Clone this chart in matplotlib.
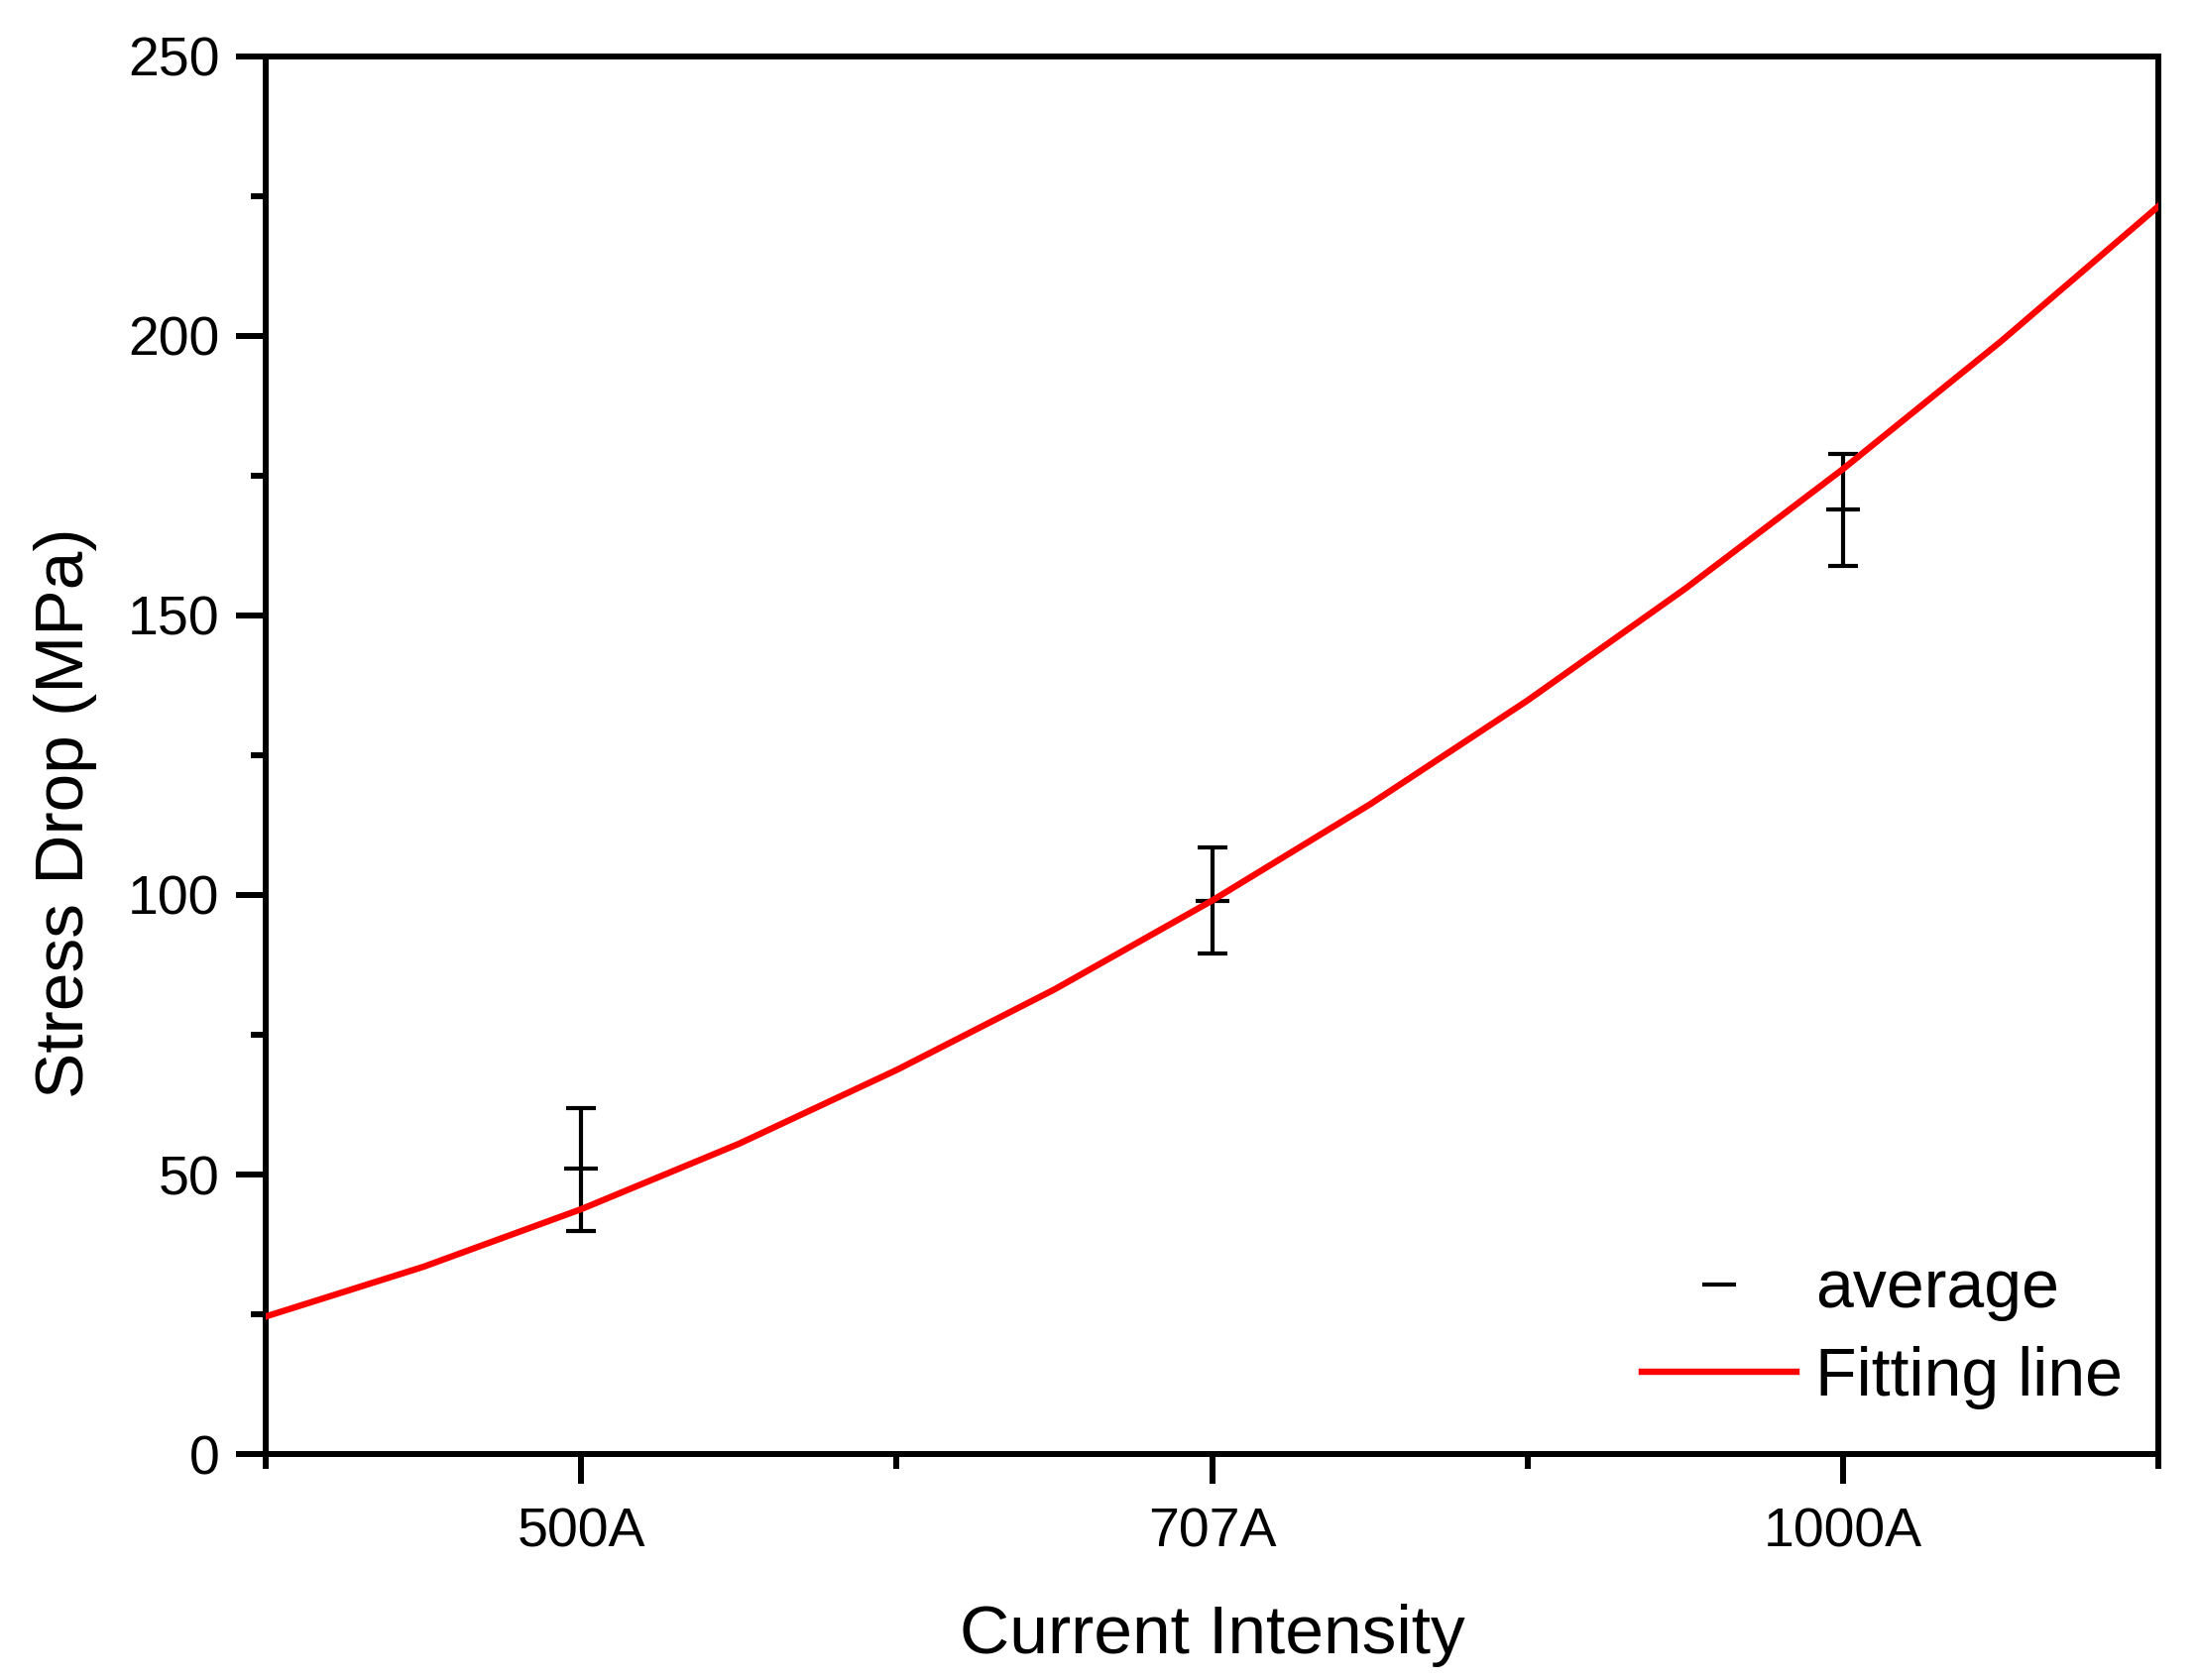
import numpy as np
import matplotlib.pyplot as plt
from matplotlib.ticker import MultipleLocator

plt.rcParams['font.family'] = ['Liberation Sans', 'DejaVu Sans']

# datos: corrientes, promedio y barras de error
categorias = ['500A', '707A', '1000A']
pos = [1, 2, 3]
promedio = [51.0, 98.9, 169.0]
err_sup = [10.8, 9.6, 9.9]
err_inf = [11.1, 9.4, 10.1]

# curva de ajuste
fit_x = [0.5, 0.75, 1.0, 1.25, 1.5, 1.75, 2.0, 2.25, 2.5, 2.75, 3.0, 3.25, 3.5]
fit_y = [24.6, 33.5, 43.8, 55.5, 68.7, 83.1, 99.0, 116.2, 134.8, 154.8, 176.2, 199.0, 223.2]

fig = plt.figure(figsize=(22.17, 16.95), dpi=100)
ax = fig.add_axes([0.1209, 0.1345, 0.8611, 0.8319])

ax.plot(fit_x, fit_y, color='red', lw=4.6, label='Fitting line', zorder=3,
        solid_joinstyle='round')
ax.errorbar(pos, promedio, yerr=[err_inf, err_sup], fmt='none', ecolor='black',
            elinewidth=3.0, capsize=10.8, capthick=3.0, zorder=2)
ax.plot(pos, promedio, ls='none', marker='_', ms=24.7, mew=3.0, color='black',
        label='average', zorder=2)

ax.set_xlim(0.5, 3.5)
ax.set_ylim(0, 250)
ax.set_xticks(pos)
ax.set_xticklabels(categorias)
ax.set_xticks([0.5, 1.5, 2.5, 3.5], minor=True)
ax.yaxis.set_major_locator(MultipleLocator(50))
ax.yaxis.set_minor_locator(MultipleLocator(25))

for s in ax.spines.values():
    s.set_linewidth(4.3)
ax.tick_params(which='major', direction='out', length=21.6, width=4.3,
               labelsize=40, pad=12)
ax.tick_params(axis='x', which='major', pad=17)
ax.tick_params(which='minor', direction='out', length=11, width=4.3)

ax.set_xlabel('Current Intensity', fontsize=50, labelpad=33)
ax.set_ylabel('Stress Drop (MPa)', fontsize=50)
ax.yaxis.set_label_coords(-0.089, 0.459)

h, l = ax.get_legend_handles_labels()
ax.legend([h[1], h[0]], [l[1], l[0]], loc='lower right', bbox_to_anchor=(0.981, 0.032),
          frameon=False, fontsize=49, handlelength=2.3, handletextpad=0.27,
          borderpad=0, borderaxespad=0, labelspacing=0.36)

plt.savefig('out.png', dpi=100)
